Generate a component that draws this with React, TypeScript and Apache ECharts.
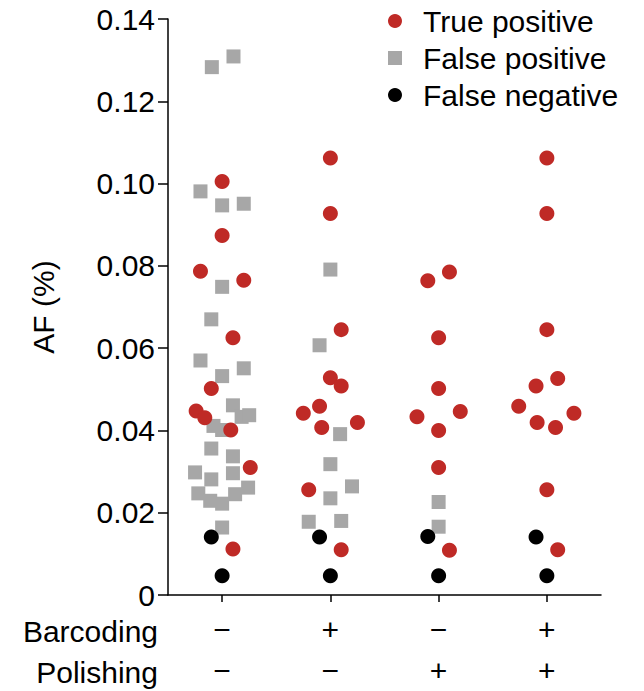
import React, { useEffect, useRef } from "react";
import * as echarts from "echarts";

// Conditions (x categories)
const conditions = ["A", "B", "C", "D"];
const barcodingLabels = ["−", "+", "−", "+"];
const polishingLabels = ["−", "−", "+", "+"];
const rowNames = ["Barcoding", "Polishing"];

// True positive: group index, horizontal jitter (in category units), AF value
const tpGroup = [0, 0, 0, 0, 0, 0, 0, 0, 0, 0, 0, 1, 1, 1, 1, 1, 1, 1, 1, 1, 1, 1, 2, 2, 2, 2, 2, 2, 2, 2, 2, 3, 3, 3, 3, 3, 3, 3, 3, 3, 3, 3];
const tpJitter = [0, 0, -0.2, 0.2, 0.1, -0.1, -0.24, -0.16, 0.08, 0.26, 0.1, 0, 0, 0.1, 0, 0.1, -0.1, -0.25, -0.08, 0.25, -0.2, 0.1, -0.1, 0.1, 0, 0, -0.2, 0.2, 0, 0, 0.1, 0, 0, 0, 0.1, -0.1, -0.26, -0.09, 0.08, 0.25, 0, 0.1];
const tpValue = [0.1005, 0.0874, 0.0787, 0.0765, 0.0625, 0.0502, 0.0447, 0.0431, 0.0401, 0.031, 0.0112, 0.1062, 0.0927, 0.0645, 0.0528, 0.0508, 0.0459, 0.0442, 0.0407, 0.0419, 0.0256, 0.011, 0.0764, 0.0785, 0.0625, 0.0502, 0.0433, 0.0446, 0.04, 0.031, 0.0109, 0.1062, 0.0927, 0.0645, 0.0526, 0.0508, 0.0459, 0.0419, 0.0407, 0.0442, 0.0256, 0.011];

// False positive
const fpGroup = [0, 0, 0, 0, 0, 0, 0, 0, 0, 0, 0, 0, 0, 0, 0, 0, 0, 0, 0, 0, 0, 0, 0, 0, 0, 0, 1, 1, 1, 1, 1, 1, 1, 1, 2, 2];
const fpJitter = [-0.095, 0.105, -0.2, 0, 0.2, 0, -0.1, -0.2, 0.2, 0, 0.1, 0.18, 0.25, -0.08, 0, -0.1, 0.1, -0.25, -0.1, 0.1, 0.24, -0.22, 0.12, -0.11, 0, 0, 0, -0.1, 0.09, 0, 0.2, 0, -0.2, 0.1, 0, 0];
const fpValue = [0.1283, 0.1309, 0.0981, 0.0947, 0.0951, 0.0749, 0.067, 0.057, 0.0551, 0.0532, 0.0461, 0.0433, 0.0437, 0.0411, 0.0401, 0.0356, 0.0337, 0.0298, 0.0281, 0.0296, 0.0261, 0.0247, 0.0245, 0.0229, 0.0222, 0.0164, 0.0791, 0.0607, 0.0391, 0.0318, 0.0264, 0.0235, 0.0178, 0.018, 0.0226, 0.0166];

// False negative
const fnGroup = [0, 0, 1, 1, 2, 2, 3, 3];
const fnJitter = [-0.1, 0, -0.1, 0, -0.1, 0, -0.1, 0];
const fnValue = [0.0141, 0.0047, 0.0141, 0.0047, 0.0142, 0.0047, 0.0141, 0.0047];

const yMin = 0;
const yMax = 0.14;
const yStep = 0.02;

const FONT = "'Liberation Sans', Arial, Helvetica, sans-serif";
const FS = 30;

function points(g: number[], j: number[], v: number[]) {
  return v.map((val, i) => [g[i] + j[i], val]);
}

export default function App() {
  const ref = useRef<HTMLDivElement>(null);
  useEffect(() => {
    if (!ref.current) return;
    const chart = echarts.init(ref.current, undefined, { renderer: "svg" });
    const lineStyle = { color: "#000", width: 1.5 };
    chart.setOption({
      animation: false,
      backgroundColor: "#fff",
      textStyle: { fontFamily: FONT },
      grid: { left: 168, right: 43, top: 19, bottom: 95, containLabel: false },
      legend: {
        orient: "vertical",
        left: 383,
        top: 1,
        itemWidth: 14,
        itemHeight: 14,
        itemGap: 7,
        data: [
          { name: "True positive", icon: "circle" },
          { name: "False positive", icon: "rect" },
          { name: "False negative", icon: "circle" },
        ],
        textStyle: { fontSize: FS, color: "#000", fontFamily: FONT, padding: [0, 0, 0, 16] },
      },
      xAxis: [
        {
          type: "category",
          data: conditions,
          boundaryGap: true,
          axisLine: { show: true, onZero: false, lineStyle },
          axisTick: { show: true, alignWithLabel: true, length: 7, lineStyle },
          axisLabel: {
            margin: 14,
            fontSize: FS,
            color: "#000",
            lineHeight: 41,
            fontFamily: FONT,
            formatter: (_v: string, i: number) => barcodingLabels[i] + "\n" + polishingLabels[i],
          },
          splitLine: { show: false },
        },
        {
          type: "value",
          min: -0.5,
          max: 3.5,
          show: false,
          splitLine: { show: false },
        },
      ],
      yAxis: {
        type: "value",
        min: yMin,
        max: yMax,
        interval: yStep,
        name: "AF (%)",
        nameLocation: "middle",
        nameRotate: 90,
        nameGap: 110,
        nameTextStyle: { fontSize: FS, color: "#000", fontFamily: FONT },
        axisLine: { show: true, onZero: false, lineStyle },
        axisTick: { show: true, length: 10, lineStyle },
        axisLabel: {
          margin: 13,
          fontSize: FS,
          color: "#000",
          fontFamily: FONT,
          formatter: (v: number) => (v === 0 ? "0" : v.toFixed(2)),
        },
        splitLine: { show: false },
      },
      graphic: rowNames.map((name, i) => ({
        type: "text",
        right: 644 - 158,
        top: 632 + i * 41 - FS / 2 - 1,
        style: { text: name, fontSize: FS, fill: "#000", fontFamily: FONT, textAlign: "right" },
      })),
      series: [
        {
          name: "False positive",
          type: "scatter",
          xAxisIndex: 1,
          symbol: "rect",
          symbolSize: 14,
          itemStyle: { color: "#a7a7a7", opacity: 1 },
          z: 2,
          data: points(fpGroup, fpJitter, fpValue),
        },
        {
          name: "False negative",
          type: "scatter",
          xAxisIndex: 1,
          symbol: "circle",
          symbolSize: 15,
          itemStyle: { color: "#000", opacity: 1 },
          z: 3,
          data: points(fnGroup, fnJitter, fnValue),
        },
        {
          name: "True positive",
          type: "scatter",
          xAxisIndex: 1,
          symbol: "circle",
          symbolSize: 15,
          itemStyle: { color: "#bf2a26", opacity: 1 },
          z: 4,
          data: points(tpGroup, tpJitter, tpValue),
        },
      ],
    });
    return () => chart.dispose();
  }, []);
  return <div ref={ref} style={{ position: "fixed", left: 0, top: 0, width: 644, height: 691 }} />;
}
